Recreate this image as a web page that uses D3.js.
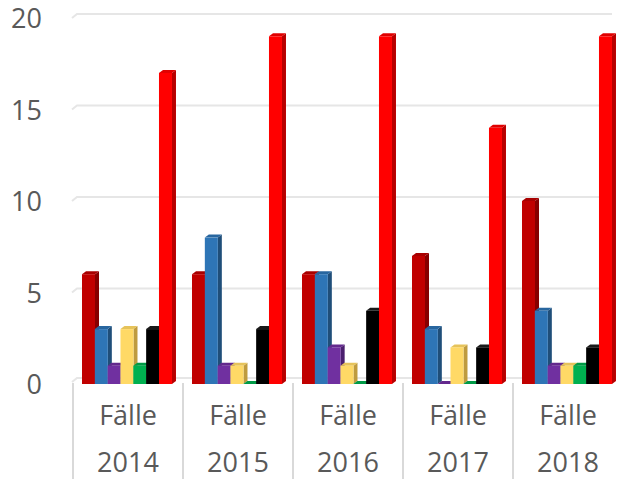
<!DOCTYPE html>
<html lang="de">
<head>
  <meta charset="UTF-8">
  <title>Fälle</title>
  <script src="https://d3js.org/d3.v7.min.js"></script>
  <style>
    body { margin: 0; background: #fff; }
    .tick-label, .cat-label { font-family: "Open Sans", sans-serif; font-size: 27px; fill: #595959; }
  </style>
</head>
<body>
  <svg id="chart" width="619" height="479"></svg>
  <script>
    // data
    const years = ["2014", "2015", "2016", "2017", "2018"];
    const seriesNames = ["s1", "s2", "s3", "s4", "s5", "s6", "s7"];
    const s1 = [6, 6, 6, 7, 10];
    const s2 = [3, 8, 6, 3, 4];
    const s3 = [1, 1, 2, 0, 1];
    const s4 = [3, 1, 1, 2, 1];
    const s5 = [1, 0, 0, 0, 1];
    const s6 = [3, 3, 4, 2, 2];
    const s7 = [17, 19, 19, 14, 19];
    const yTicks = [0, 5, 10, 15, 20];

    const allSeries = [s1, s2, s3, s4, s5, s6, s7];
    const frontCol = ["#C00000", "#2E75B6", "#7030A0", "#FFD966", "#00B050", "#000000", "#FF0000"];
    const sideCol  = ["#860000", "#1F4E79", "#4B1F6E", "#BF9B3E", "#00773A", "#000000", "#B80000"];
    const topCol   = ["#A80000", "#28669F", "#63298D", "#E6C35A", "#009A46", "#1a1a1a", "#E00000"];

    const svg = d3.select("#chart");
    const left = 73, right = 623, floorY = 384;
    const depthX = 4, depthY = 3;

    const x0 = d3.scaleBand().domain(years).range([left, right]);
    const x1 = d3.scaleBand().domain(seriesNames)
                 .range([9, 9 + 7 * 12.83]).padding(0);
    const y = d3.scaleLinear().domain([0, 20]).range([floorY, floorY - 20 * 18.3]);

    // gridlines on back wall
    const grid = svg.append("g");
    yTicks.slice(1).forEach(v => {
      grid.append("path")
          .attr("d", `M${left - 1},${y(v)} L${left + 4},${y(v) - 4} L612,${y(v) - 4}`)
          .attr("fill", "none")
          .attr("stroke", "#e6e6e6")
          .attr("stroke-width", 2);
    });
    grid.append("path")
        .attr("d", `M${left - 1},${y(0) - 2} L${left + 4},${y(0) - 6} L612,${y(0) - 6}`)
        .attr("fill", "none")
        .attr("stroke", "#e6e6e6")
        .attr("stroke-width", 2);

    // tick labels
    svg.append("g").selectAll("text")
       .data(yTicks).join("text")
       .attr("class", "tick-label")
       .attr("x", 42)
       .attr("y", d => y(d) + 10)
       .attr("text-anchor", "end")
       .text(d => d);

    // category separators
    svg.append("g").selectAll("line")
       .data(d3.range(years.length))
       .join("line")
       .attr("x1", i => left + x0.step() * i)
       .attr("x2", i => left + x0.step() * i)
       .attr("y1", floorY - 1)
       .attr("y2", 479)
       .attr("stroke", "#d9d9d9")
       .attr("stroke-width", 2);

    // bars (3D)
    const bars = svg.append("g");
    years.forEach((yr, gi) => {
      allSeries.forEach((vals, si) => {
        const v = vals[gi];
        const bx = x0(yr) + x1(seriesNames[si]);
        const bw = 13;
        const ty = y(v);
        const g = bars.append("g");
        // side
        g.append("path")
         .attr("d", `M${bx + bw},${ty} L${bx + bw + depthX},${ty - depthY} L${bx + bw + depthX},${floorY - depthY} L${bx + bw},${floorY} Z`)
         .attr("fill", sideCol[si]);
        // top
        g.append("path")
         .attr("d", `M${bx},${ty} L${bx + depthX},${ty - depthY} L${bx + bw + depthX},${ty - depthY} L${bx + bw},${ty} Z`)
         .attr("fill", topCol[si]);
        // front
        g.append("rect")
         .attr("x", bx)
         .attr("y", ty)
         .attr("width", bw)
         .attr("height", floorY - ty)
         .attr("fill", frontCol[si]);
      });
    });

    // category labels
    const cats = svg.append("g");
    years.forEach(yr => {
      const cx = x0(yr) + x0.bandwidth() / 2;
      cats.append("text").attr("class", "cat-label")
          .attr("x", cx).attr("y", 425).attr("text-anchor", "middle").text("Fälle");
      cats.append("text").attr("class", "cat-label")
          .attr("x", cx).attr("y", 472).attr("text-anchor", "middle").text(yr);
    });
  </script>
</body>
</html>
